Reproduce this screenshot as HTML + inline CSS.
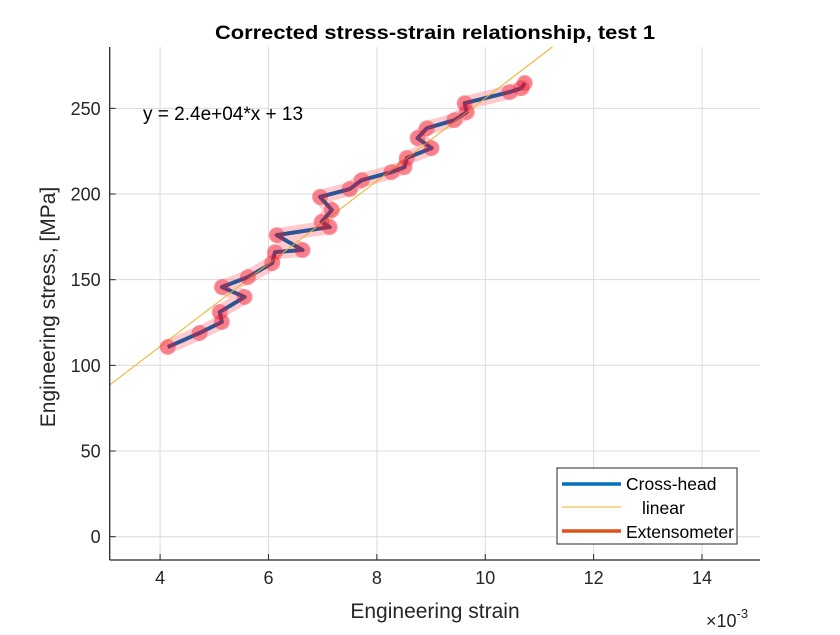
<!DOCTYPE html>
<html><head><meta charset="utf-8"><style>
body{margin:0;background:#fff;}
svg{font-family:"Liberation Sans",Arial,sans-serif;}
</style></head><body>
<svg id="chart" width="840" height="630" xmlns="http://www.w3.org/2000/svg">
<rect width="840" height="630" fill="#fff"/>
<g id="grid"></g>
<g id="series"></g>
<g id="axes"></g>
<text x="435" y="39" text-anchor="middle" font-size="19" font-weight="bold" textLength="440" lengthAdjust="spacingAndGlyphs">Corrected stress-strain relationship, test 1</text>
<text x="435" y="618" text-anchor="middle" font-size="21" fill="#262626">Engineering strain</text>
<text transform="translate(55,307) rotate(-90)" text-anchor="middle" font-size="21" fill="#262626">Engineering stress, [MPa]</text>
<text x="706" y="627" font-size="18" fill="#262626">×10<tspan dy="-9" font-size="13">-3</tspan></text>
<text x="143" y="120" font-size="19" fill="#000">y = 2.4e+04*x + 13</text>
<g>
<rect x="557" y="468" width="180" height="76" fill="#fff" stroke="#262626" stroke-width="1"/>
<line x1="562" y1="484" x2="621" y2="484" stroke="#0072bd" stroke-width="3.5"/>
<text x="626" y="490" font-size="17.5">Cross-head</text>
<line x1="562" y1="507" x2="621" y2="507" stroke="#edb120" stroke-width="1"/>
<text x="642" y="514" font-size="17.5">linear</text>
<line x1="562" y1="531" x2="621" y2="531" stroke="#d95319" stroke-width="3.5"/>
<text x="626" y="538" font-size="17.5">Extensometer</text>
</g>
</svg>
<script>
const strain = [4.14,4.73,5.14,5.10,5.56,5.14,5.62,6.07,6.12,6.63,6.15,7.13,6.98,7.17,6.95,7.5,7.72,8.27,8.51,8.55,9.01,8.75,8.92,9.43,9.66,9.62,10.45,10.67,10.73];
const stress = [110.7,118.9,125.3,131.1,139.9,145.7,151.5,159.7,166.1,167.3,176.0,180.7,183.7,190.7,198.3,202.9,208.1,212.8,215.7,221,226.8,232.6,238.4,243.1,247.8,253,259.5,261.8,264.8];
const xTicks = [4,6,8,10,12,14];
const yTicks = [0,50,100,150,200,250];
const fitSlope = 24.15;
const fitIntercept = 14.4;
const fitRange = [3.07,11.24];

const X0=109.7,X1=760,Y0=560,Y1=47;
const xMin=3.07,xMax=15.07,yMin=-13.6,yMax=285.8;
const sx=v=>X0+(v-xMin)/(xMax-xMin)*(X1-X0);
const sy=v=>Y0-(v-yMin)/(yMax-yMin)*(Y0-Y1);
const NS="http://www.w3.org/2000/svg";
function mk(tag,attrs,parent){const e=document.createElementNS(NS,tag);for(const k in attrs)e.setAttribute(k,attrs[k]);parent.appendChild(e);return e;}
const grid=document.getElementById('grid'),axes=document.getElementById('axes'),series=document.getElementById('series');
xTicks.forEach(t=>{
  const g=mk('line',{x1:sx(t),x2:sx(t),y1:Y1,y2:Y0,stroke:'#dcdcdc','stroke-width':1},grid);
  
  
  const tk=mk('line',{x1:sx(t),x2:sx(t),y1:Y0,y2:Y0-6,stroke:'#262626','stroke-width':1},axes);
  
  
  const tx=mk('text',{x:sx(t),y:Y0+24,'text-anchor':'middle','font-size':18,fill:'#262626'},axes);
  tx.textContent=t;
  
  
});
yTicks.forEach(t=>{
  const g=mk('line',{x1:X0,x2:X1,y1:sy(t),y2:sy(t),stroke:'#dcdcdc','stroke-width':1},grid);
  
  
  const tk=mk('line',{x1:X0,x2:X0+6,y1:sy(t),y2:sy(t),stroke:'#262626','stroke-width':1},axes);
  
  
  const tx=mk('text',{x:X0-9,y:sy(t)+6.5,'text-anchor':'end','font-size':18,fill:'#262626'},axes);
  tx.textContent=t;
  
  
});
const xa=mk('line',{x1:X0,x2:X1,y1:Y0,y2:Y0,stroke:'#262626','stroke-width':1.3},axes);


const ya=mk('line',{x1:X0,x2:X0,y1:Y1,y2:Y0,stroke:'#262626','stroke-width':1.3},axes);



const pts=strain.map((v,i)=>sx(v)+','+sy(stress[i])).join(' ');
const ext=mk('polyline',{points:pts,fill:'none',stroke:'rgba(255,40,60,0.25)','stroke-width':14,'stroke-linejoin':'round','stroke-linecap':'round'},series);


const ch=mk('polyline',{points:pts,fill:'none',stroke:'#2a5696','stroke-width':4,'stroke-linejoin':'round'},series);


const fit=mk('line',{x1:sx(fitRange[0]),y1:sy(fitSlope*fitRange[0]+fitIntercept),x2:sx(fitRange[1]),y2:sy(fitSlope*fitRange[1]+fitIntercept),stroke:'#edb120','stroke-width':1},series);


strain.forEach((v,i)=>{
  const c=mk('circle',{cx:sx(v),cy:sy(stress[i]),r:8,fill:'rgba(240,20,40,0.4)'},series);
  
  
});
</script>
</body></html>
